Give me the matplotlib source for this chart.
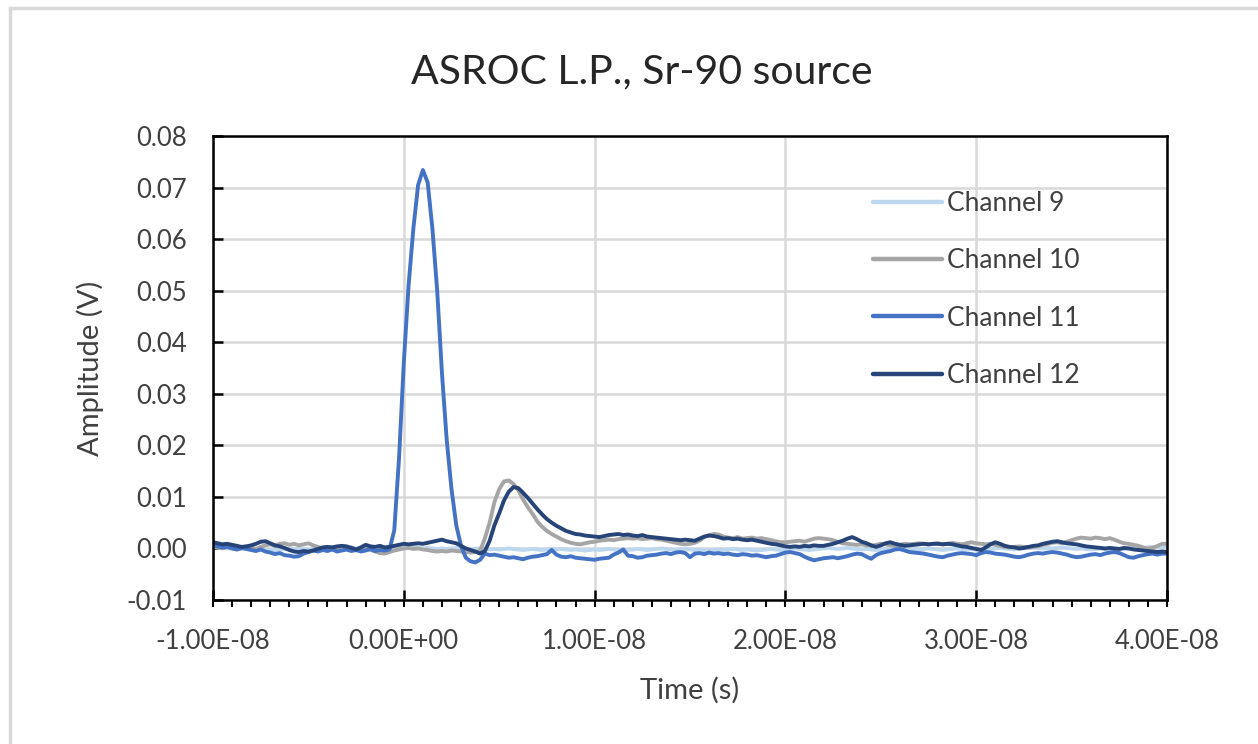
import numpy as np
import matplotlib
matplotlib.use("Agg")
import matplotlib.pyplot as plt
from matplotlib.ticker import MultipleLocator, FuncFormatter
from matplotlib.lines import Line2D

# Sampling grid: -10 ns to 40 ns, 0.25 ns per sample (201 samples)
t_start_ns = -10.0
t_step_ns = 0.25

# Amplitudes in mV, one row per nanosecond (4 samples each)
ch9_mv = [
    0.3, 0.2, 0.1, 0.0,  0.0, -0.1, 0.0, -0.1,  -0.2, -0.1, -0.2, -0.3,  -0.2, -0.3, -0.2, -0.1,
    -0.2, -0.1, 0.0, -0.1,  -0.2, -0.1, -0.2, -0.1,  0.0, -0.1, -0.2, -0.1,  -0.2, -0.1, 0.0, -0.1,
    -0.2, -0.1, -0.2, -0.1,  0.0, 0.1, 0.0, 0.1,
    0.2, 0.1, 0.2, 0.1,  0.0, 0.1, 0.0, -0.1,  0.0, -0.1, 0.0, 0.1,  0.0, -0.1, -0.2, -0.1,
    0.0, -0.1, -0.2, -0.1,  -0.2, -0.1, 0.0, -0.1,  -0.2, -0.3, -0.2, -0.1,  -0.2, -0.3, -0.2, -0.1,
    -0.2, -0.1, -0.2, -0.3,  -0.2, -0.3, -0.4, -0.3,
    -0.2, -0.3, -0.2, -0.1,  -0.2, -0.3, -0.4, -0.3,  -0.2, -0.1, -0.2, -0.3,  -0.2, -0.1, 0.0, -0.1,
    -0.2, -0.3, -0.2, -0.1,  -0.2, -0.3, -0.2, -0.3,  -0.4, -0.3, -0.2, -0.3,  -0.2, -0.1, -0.2, -0.3,
    -0.2, -0.3, -0.4, -0.3,  -0.2, -0.1, -0.2, -0.3,
    -0.2, -0.1, 0.0, -0.1,  -0.2, -0.3, -0.2, -0.1,  0.0, 0.1, 0.0, -0.1,  0.0, 0.1, 0.0, -0.1,
    -0.2, -0.1, -0.2, -0.3,  -0.2, -0.1, 0.0, -0.1,  -0.2, -0.3, -0.2, -0.1,  -0.2, -0.1, 0.0, -0.1,
    -0.2, -0.3, -0.2, -0.1,  0.0, -0.1, -0.2, -0.1,
    -0.2, -0.3, -0.2, -0.1,  0.0, 0.1, 0.0, -0.1,  -0.2, -0.1, 0.0, 0.1,  0.2, 0.1, 0.0, 0.1,
    0.0, 0.1, 0.2, 0.1,  0.0, -0.1, 0.0, -0.1,  -0.2, -0.1, 0.0, -0.1,  -0.2, -0.3, -0.2, -0.1,
    0.0, 0.1, 0.0, 0.1,  0.2, 0.3, 0.2, 0.3,
    0.3,
]

ch10_mv = [
    0.5, 0.2, 0.0, 0.3,  0.1, -0.2, 0.0, 0.4,  0.2, -0.1, 0.3, 0.6,  0.8, 0.5, 0.9, 1.0,
    0.7, 0.9, 0.6, 0.8,  1.0, 0.6, 0.3, 0.0,  -0.2, 0.2, 0.0, -0.3,  -0.1, 0.2, -0.2, 0.0,
    0.3, -0.3, -0.6, -0.9,  -1.0, -0.7, -0.4, -0.2,
    0.0, 0.1, -0.1, 0.0,  -0.2, -0.3, -0.5, -0.6,  -0.5, -0.6, -0.4, -0.5,  -0.6, -0.7, -0.8, -0.7,
    -0.5, 2.0, 5.0, 9.0,  11.5, 13.0, 13.2, 12.5,  11.3, 9.5, 8.0, 6.7,  5.2, 4.2, 3.4, 2.8,
    2.3, 1.8, 1.4, 1.1,  0.9, 0.8, 1.0, 1.2,
    1.3, 1.5, 1.6, 1.7,  1.6, 1.8, 1.9, 2.0,  1.9, 2.0, 1.8, 1.9,  2.0, 1.8, 1.7, 1.5,
    1.3, 1.1, 0.9, 0.8,  0.9, 1.1, 1.5, 2.2,  2.6, 2.8, 2.7, 2.3,  2.1, 2.0, 2.2, 1.9,
    2.0, 2.1, 1.9, 2.0,  1.8, 1.6, 1.4, 1.2,
    1.2, 1.3, 1.4, 1.5,  1.3, 1.6, 1.9, 2.0,  1.9, 1.8, 1.6, 1.3,  1.0, 0.9, 0.8, 0.7,
    0.8, 0.6, 0.5, 0.7,  0.9, 0.8, 0.6, 0.5,  0.7, 0.9, 0.8, 0.9,  1.0, 0.9, 0.8, 0.9,
    1.0, 0.8, 0.9, 1.1,  0.9, 0.8, 1.0, 1.2,
    1.0, 0.9, 0.8, 0.9,  0.7, 0.5, 0.3, 0.2,  0.3, 0.4, 0.3, 0.2,  0.3, 0.5, 0.7, 0.9,
    1.1, 1.2, 1.0, 1.3,  1.6, 1.9, 2.1, 2.0,  1.9, 2.1, 2.0, 1.8,  2.0, 1.7, 1.3, 1.0,
    0.9, 0.7, 0.5, 0.2,  0.0, 0.1, 0.5, 0.9,
    0.9,
]

ch11_mv = [
    0.6, 0.4, 0.2, 0.3,  0.0, -0.2, 0.1, -0.1,  -0.3, -0.5, -0.2, -0.6,  -0.8, -1.1, -0.9, -1.3,
    -1.4, -1.6, -1.5, -1.0,  -0.7, -0.4, -0.6, -0.3,  -0.5, -0.2, -0.6, -0.4,  -0.2, -0.5, -0.3, -0.6,
    -0.4, -0.1, -0.5, -0.3,  -0.4, -0.2, 3.5, 17.5,
    36.0, 51.0, 62.0, 70.5,  73.4, 71.0, 62.0, 50.0,  34.0, 21.0, 11.5, 4.5,  0.5, -1.8, -2.5, -2.7,
    -2.2, -1.0, -1.3, -1.2,  -1.4, -1.6, -1.8, -1.7,  -1.9, -2.1, -1.8, -1.6,  -1.5, -1.3, -1.1, -0.3,
    -1.2, -1.6, -1.7, -1.5,  -1.8, -1.9, -2.0, -2.1,
    -2.2, -2.0, -1.9, -1.8,  -1.2, -0.8, -0.2, -1.4,  -1.5, -1.8, -1.7, -1.4,  -1.3, -1.2, -1.0, -0.9,
    -1.1, -0.8, -0.7, -0.9,  -1.7, -1.0, -0.9, -1.1,  -0.8, -1.0, -0.9, -1.1,  -1.0, -1.2, -1.3, -1.1,
    -1.2, -1.4, -1.3, -1.5,  -1.7, -1.5, -1.4, -1.1,
    -0.8, -0.7, -0.9, -1.1,  -1.6, -2.0, -2.3, -2.1,  -1.9, -1.8, -1.7, -1.9,  -1.7, -1.5, -1.2, -1.0,
    -1.1, -1.6, -2.0, -1.3,  -0.9, -0.7, -0.5, -0.2,  -0.1, -0.4, -0.7, -0.8,  -0.9, -1.0, -1.2, -1.4,
    -1.6, -1.7, -1.4, -1.2,  -1.0, -0.9, -1.0, -1.1,
    -1.3, -0.9, -0.7, -0.8,  -1.0, -1.1, -1.2, -1.4,  -1.6, -1.7, -1.5, -1.2,  -1.0, -0.9, -1.0, -0.8,
    -0.7, -0.8, -1.0, -1.2,  -1.5, -1.7, -1.6, -1.4,  -1.2, -1.1, -1.3, -1.0,  -0.8, -0.7, -0.9, -1.3,
    -1.7, -1.8, -1.5, -1.3,  -1.1, -1.0, -1.2, -1.0,
    -1.0,
]

ch12_mv = [
    1.2, 1.0, 0.8, 0.9,  0.7, 0.5, 0.3, 0.4,  0.6, 0.9, 1.3, 1.4,  1.0, 0.6, 0.4, 0.1,
    -0.3, -0.6, -0.7, -0.5,  -0.6, -0.4, -0.1, 0.2,  0.3, 0.2, 0.4, 0.5,  0.4, 0.1, -0.2, 0.2,
    0.7, 0.4, 0.3, 0.5,  0.2, 0.3, 0.5, 0.7,
    0.9, 0.8, 0.9, 1.0,  0.9, 1.1, 1.3, 1.5,  1.7, 1.4, 1.2, 1.0,  0.5, 0.0, -0.3, -0.6,
    -1.0, -0.5, 1.5, 4.5,  6.8, 9.3, 11.0, 11.9,  11.7, 10.8, 9.8, 8.7,  7.6, 6.6, 5.7, 5.0,
    4.4, 3.9, 3.4, 3.1,  2.8, 2.7, 2.5, 2.4,
    2.3, 2.2, 2.4, 2.6,  2.7, 2.8, 2.6, 2.7,  2.5, 2.4, 2.6, 2.3,  2.2, 2.1, 2.0, 1.9,
    1.8, 1.7, 1.6, 1.7,  1.6, 1.5, 1.9, 2.3,  2.5, 2.4, 2.2, 1.9,  2.0, 1.8, 1.9, 1.7,
    1.6, 1.7, 1.5, 1.3,  1.1, 0.9, 0.8, 0.6,
    0.4, 0.3, 0.4, 0.3,  0.5, 0.4, 0.6, 0.5,  0.5, 0.7, 0.9, 1.2,  1.5, 1.9, 2.2, 1.8,
    1.3, 1.0, 0.6, 0.3,  0.6, 1.0, 1.2, 0.9,  0.7, 0.5, 0.6, 0.7,  0.8, 0.9, 0.8, 0.9,
    0.9, 0.8, 0.9, 0.8,  0.6, 0.4, 0.3, 0.1,
    -0.1, -0.3, 0.2, 0.8,  1.2, 0.9, 0.5, 0.3,  0.2, 0.0, 0.1, 0.3,  0.5, 0.6, 0.9, 1.1,
    1.3, 1.4, 1.2, 1.0,  0.9, 0.8, 0.6, 0.4,  0.3, 0.2, 0.1, 0.0,  0.1, 0.0, -0.1, 0.1,
    0.0, -0.2, -0.3, -0.4,  -0.5, -0.6, -0.7, -0.6,
    -0.7,
]

channel_names = ["Channel 9", "Channel 10", "Channel 11", "Channel 12"]
channel_colors = ["#BDD7EE", "#A5A5A5", "#4472C4", "#264478"]

x_ticks = [-1e-8, 0.0, 1e-8, 2e-8, 3e-8, 4e-8]
y_ticks = [-0.01, 0.0, 0.01, 0.02, 0.03, 0.04, 0.05, 0.06, 0.07, 0.08]

chart_title = "ASROC L.P., Sr-90 source"
text_color = "#404040"
grid_color = "#D9D9D9"
plt.rcParams["font.family"] = ["Lato", "DejaVu Sans"]

n = len(ch11_mv)
time_s = (t_start_ns + t_step_ns * np.arange(n)) * 1e-9
series = [ch9_mv, ch10_mv, ch11_mv, ch12_mv]

fig = plt.figure(figsize=(12.58, 7.44), dpi=100)
fig.patch.set_facecolor("white")

# Outer chart-area frame (top and left edges)
fig.add_artist(Line2D([10 / 1258, 1.0], [1 - 8 / 744, 1 - 8 / 744],
                      transform=fig.transFigure, color=grid_color, lw=2.5))
fig.add_artist(Line2D([10 / 1258, 10 / 1258], [0.0, 1 - 8 / 744],
                      transform=fig.transFigure, color=grid_color, lw=2.5))

ax = fig.add_axes([213 / 1258, 1 - 600 / 744, (1167 - 213) / 1258, (600 - 136) / 744])

for vals, name, col in zip(series, channel_names, channel_colors):
    ax.plot(time_s, np.array(vals) / 1000.0, color=col, lw=2.8, label=name,
            solid_joinstyle="round", solid_capstyle="round")

ax.set_xlim(x_ticks[0], x_ticks[-1])
ax.set_ylim(y_ticks[0], y_ticks[-1])
ax.set_xticks(x_ticks)
ax.set_yticks(y_ticks)
ax.xaxis.set_minor_locator(MultipleLocator(1e-9))
ax.xaxis.remove_overlapping_locs = False

ax.xaxis.set_major_formatter(FuncFormatter(lambda v, p: f"{v:.2E}"))
ax.yaxis.set_major_formatter(FuncFormatter(lambda v, p: f"{v:.2f}"))

ax.grid(True, which="major", color=grid_color, lw=1.8)
ax.set_axisbelow(True)

for sp in ax.spines.values():
    sp.set_color("black")
    sp.set_linewidth(1.8)

ax.tick_params(axis="x", which="major", direction="in", length=7, width=1.8,
               colors="black", labelcolor=text_color, labelsize=18.5, pad=21)
ax.tick_params(axis="x", which="minor", direction="out", length=5, width=1.5,
               colors="black")
ax.tick_params(axis="y", which="major", direction="in", length=7, width=1.8,
               colors="black", labelcolor=text_color, labelsize=18.5, pad=19)

ax.set_xlabel("Time (s)", fontsize=21, color=text_color, labelpad=16)
ax.set_ylabel("Amplitude (V)", fontsize=21, color=text_color, labelpad=16)

# Title is centred on the whole chart area rather than the plot box
fig.text(642 / 1258, 1 - 83 / 744, chart_title, ha="center", va="baseline",
         fontsize=29.5, color="#262626")

leg = ax.legend(loc="upper left", bbox_to_anchor=(0.6918, 0.881), frameon=False,
                fontsize=19, handlelength=2.6, handletextpad=0.22,
                labelspacing=1.22, borderpad=0.0, borderaxespad=0.0,
                labelcolor=text_color)
for h in leg.get_lines():
    h.set_linewidth(3.2)

fig.savefig("out.png", dpi=100, facecolor="white")
